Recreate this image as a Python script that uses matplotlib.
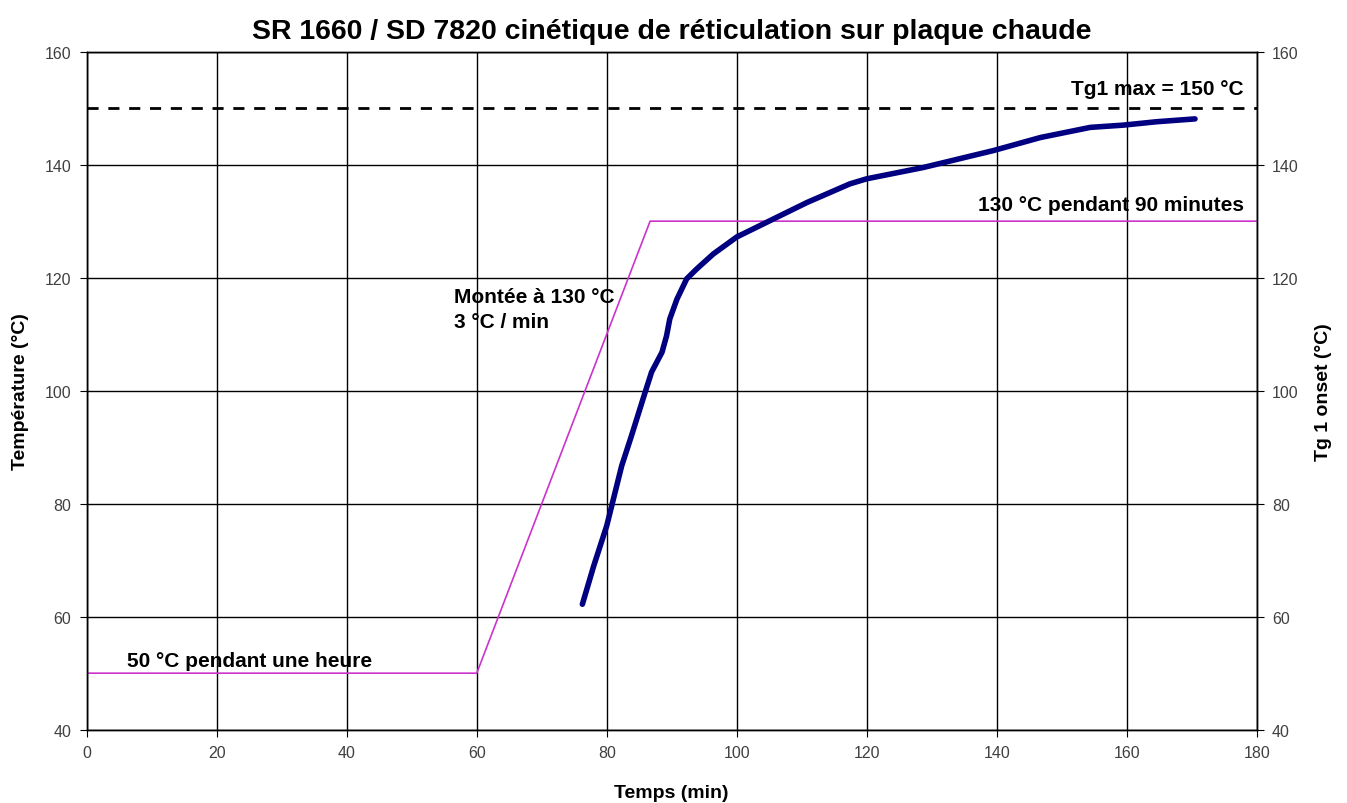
import matplotlib.pyplot as plt

plt.rcParams['font.family'] = ['Liberation Sans', 'DejaVu Sans']

# consigne de la plaque chaude
t_consigne = [0, 60, 86.67, 180]
T_consigne = [50, 50, 130, 130]

# Tg1 onset mesurée
t_tg = [76.25, 78.0, 80.0, 82.3, 83.8, 85.9, 86.9, 88.5, 89.2, 89.7, 90.8, 92.3,
        93.8, 96.4, 100.0, 104.6, 110.8, 117.4, 120.0, 128.7, 139.5, 146.7,
        154.4, 159.5, 164.6, 170.5]
tg = [62.2, 69.0, 76.1, 86.7, 92.0, 99.7, 103.3, 106.8, 109.7, 112.7, 116.2, 119.8,
      121.5, 124.2, 127.2, 129.8, 133.3, 136.6, 137.5, 139.5, 142.5, 144.8,
      146.6, 147.0, 147.6, 148.1]

tg_max = 150

fig = plt.figure(figsize=(13.47, 8.04), dpi=100)
ax = fig.add_axes([0.0644, 0.0912, 0.8686, 0.8433])

ax.plot(t_consigne, T_consigne, color='#cc33cc', lw=1.2)
ax.plot(t_tg, tg, color='#000080', lw=4, solid_capstyle='round')
ax.axhline(tg_max, color='black', lw=2, ls=(0, (4, 3.5)))

ax.set_xlim(0, 180)
ax.set_ylim(40, 160)
ax.set_xticks(range(0, 181, 20))
ax.set_yticks(range(40, 161, 20))
ax.grid(True, color='black', lw=1)
ax.tick_params(direction='out', length=5, labelsize=11.5, labelcolor='#404040', pad=6)

ax2 = ax.twinx()
ax2.set_ylim(40, 160)
ax2.set_yticks(range(40, 161, 20))
ax2.tick_params(direction='out', length=5, labelsize=11.5, labelcolor='#404040', pad=6)

for a in (ax, ax2):
    for s in a.spines.values():
        s.set_linewidth(1)

ax.set_xlabel('Temps (min)', fontsize=14, fontweight='bold', labelpad=17)
ax.set_ylabel('Température (°C)', fontsize=14, fontweight='bold', labelpad=11)
ax2.set_ylabel('Tg 1 onset (°C)', fontsize=14, fontweight='bold', labelpad=12)
ax.set_title('SR 1660 / SD 7820 cinétique de réticulation sur plaque chaude',
             fontsize=20.5, fontweight='bold', pad=10)

ax.text(178, 151.8, 'Tg1 max = 150 °C', fontsize=15, fontweight='bold', ha='right', va='bottom')
ax.text(178, 131.2, '130 °C pendant 90 minutes', fontsize=15, fontweight='bold', ha='right', va='bottom')
ax.text(56.5, 118.3, 'Montée à 130 °C\n3 °C / min', fontsize=15, fontweight='bold',
        ha='left', va='top', linespacing=1.35)
ax.text(6.2, 50.5, '50 °C pendant une heure', fontsize=15, fontweight='bold', ha='left', va='bottom')

fig.savefig('out.png', dpi=100)
